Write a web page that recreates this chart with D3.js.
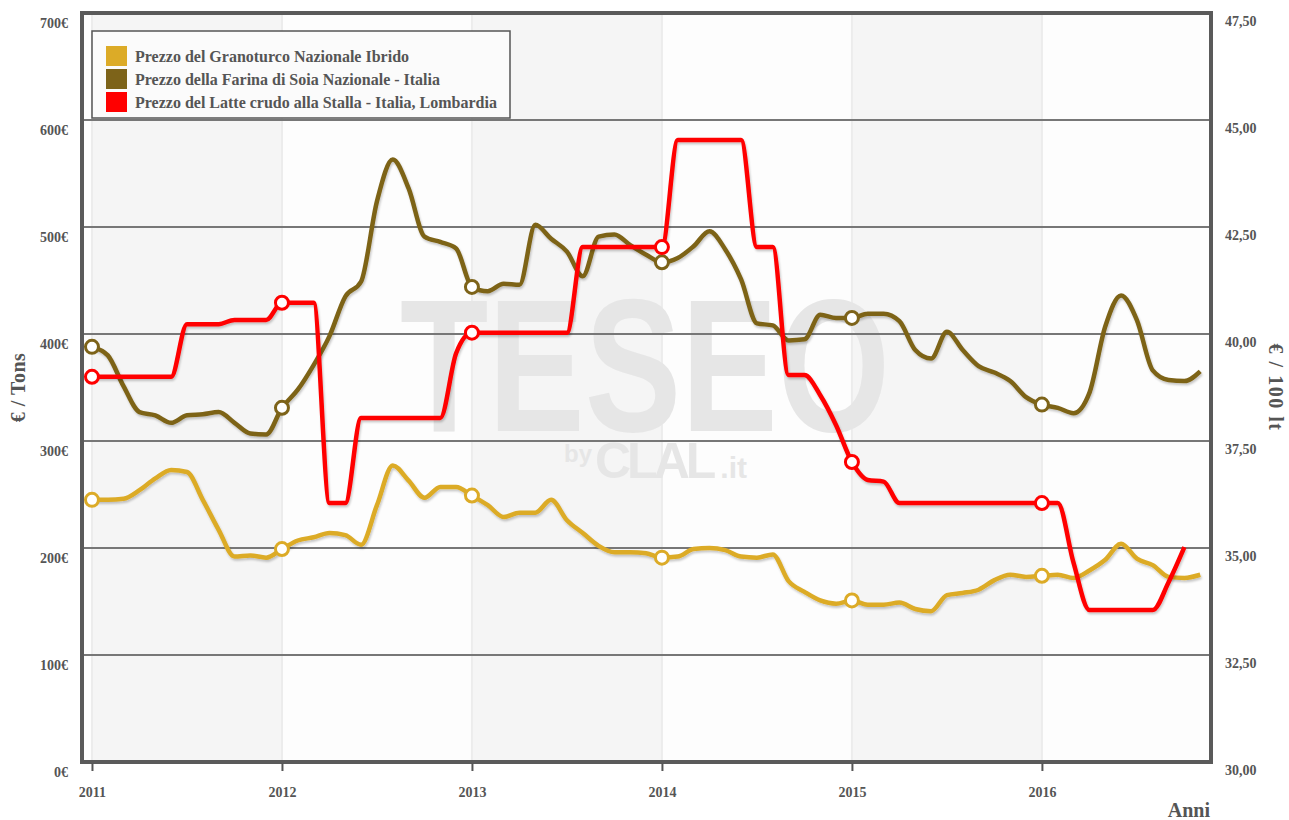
<!DOCTYPE html>
<html>
<head>
<meta charset="utf-8">
<script src="https://cdnjs.cloudflare.com/ajax/libs/d3/7.8.5/d3.min.js"></script>
<style>
	body { margin: 0; background: #fff; }
	text { font-family: "Liberation Serif", "Times New Roman", serif; font-weight: bold; fill: #555; }
	.watermark { font-family: "Liberation Sans", Arial, sans-serif; fill: #e6e6e6; }
</style>
</head>
<body>
<svg id="chart"></svg>
<script>

const WIDTH = 1289;
const HEIGHT = 820;
const MARGINS = {top: 13, bottom: 58, left: 82, right: 78};

// monthly values, January 2011 onwards
const YEARS = [2011, 2012, 2013, 2014, 2015, 2016];

// Prezzo del Granoturco Nazionale Ibrido (€/t), Jan 2011 - Nov 2016
const corn = [
	245, 245, 246, 254, 265, 273, 271, 245, 217, 192, 193, 191,
	199, 207, 210, 214, 212, 203, 240, 277, 263, 247, 257, 257,
	249, 240, 229, 233, 233, 245, 226, 214, 202, 196, 196, 195,
	191, 192, 199, 200, 198, 192, 191, 194, 169, 159, 151, 148,
	151, 147, 147, 149, 143, 141, 156, 158, 161, 170, 175, 173,
	174, 175, 172, 179, 189, 204, 190, 184, 173, 172, 175
];

// Prezzo della Farina di Soia Nazionale (€/t), Jan 2011 - Nov 2016
const soy = [
	388, 380, 351, 327, 324, 317, 324, 325, 327, 317, 307, 306,
	331, 348, 371, 398, 435, 449, 524, 563, 536, 491, 486, 480,
	444, 440, 447, 446, 502, 489, 477, 454, 491, 493, 483, 474,
	467, 471, 482, 496, 479, 451, 410, 408, 394, 395, 418, 415,
	415, 419, 419, 412, 385, 377, 402, 385, 370, 364, 356, 341,
	334, 331, 326, 345, 407, 436, 413, 366, 357, 356, 365
];

// Prezzo del Latte crudo alla Stalla - Lombardia (€/100 lt), Jan 2011 - Oct 2016
const milk = [
	39.00, 39.00, 39.00, 39.00, 39.00, 39.00, 40.23, 40.23, 40.23, 40.33, 40.33, 40.33,
	40.73, 40.73, 40.73, 36.05, 36.05, 38.04, 38.04, 38.04, 38.04, 38.04, 38.04, 39.55,
	40.03, 40.03, 40.03, 40.03, 40.03, 40.03, 40.03, 42.03, 42.03, 42.03, 42.03, 42.03,
	42.03, 44.53, 44.53, 44.53, 44.53, 44.53, 42.03, 42.03, 39.04, 39.04, 38.57, 37.87,
	37.01, 36.59, 36.55, 36.05, 36.05, 36.05, 36.05, 36.05, 36.05, 36.05, 36.05, 36.05,
	36.05, 36.05, 34.65, 33.55, 33.55, 33.55, 33.55, 33.55, 34.20, 35.02
];

const LEFT_TICKS = [0, 100, 200, 300, 400, 500, 600, 700];
const RIGHT_TICKS = [30, 32.5, 35, 37.5, 40, 42.5, 45, 47.5];

const SERIES = [
	{name: 'Prezzo del Granoturco Nazionale Ibrido', values: corn, color: '#dcab27', axis: 'left'},
	{name: 'Prezzo della Farina di Soia Nazionale - Italia', values: soy, color: '#7d6319', axis: 'left'},
	{name: 'Prezzo del Latte crudo alla Stalla - Italia, Lombardia', values: milk, color: '#ff0000', axis: 'right'}
];

window.onload = function(){
	makeChart();
};

function makeChart(){
	const svg = d3.select('#chart')
		.attr('width', WIDTH)
		.attr('height', HEIGHT);

	const x0 = MARGINS.left, x1 = WIDTH - MARGINS.right;
	const y0 = HEIGHT - MARGINS.bottom, y1 = MARGINS.top;

	// x in months since Jan 2011
	const xScale = d3.scaleLinear()
		.domain([-0.63, 70.68])
		.range([x0, x1]);
	const monthOf = year => (year - 2011) * 12;

	const yLeft = d3.scaleLinear().domain([0, 700]).range([y0, y1]);
	const yRight = d3.scaleLinear().domain([30, 47.5]).range([y0, y1]);

	//Drop shadow for the lines
	const defs = svg.append('defs');
	const shadow = defs.append('filter').attr('id', 'shadow')
		.attr('x', '-5%').attr('y', '-5%').attr('width', '110%').attr('height', '110%');
	shadow.append('feDropShadow')
		.attr('dx', 1).attr('dy', 2).attr('stdDeviation', 1.2)
		.attr('flood-color', '#000').attr('flood-opacity', 0.22);

	//Plot background and alternating year bands
	svg.append('rect')
		.attr('x', x0).attr('y', y1)
		.attr('width', x1 - x0).attr('height', y0 - y1)
		.attr('fill', '#fdfdfd');

	svg.append('g').selectAll('rect')
		.data(YEARS.filter((d, i) => i % 2 == 0))
		.enter().append('rect')
		.attr('x', d => xScale(monthOf(d)))
		.attr('y', y1)
		.attr('width', d => xScale(monthOf(d + 1)) - xScale(monthOf(d)))
		.attr('height', y0 - y1)
		.attr('fill', '#f5f5f5');

	svg.append('g').selectAll('line')
		.data(YEARS)
		.enter().append('line')
		.attr('x1', d => xScale(monthOf(d))).attr('x2', d => xScale(monthOf(d)))
		.attr('y1', y1).attr('y2', y0)
		.attr('stroke', '#ececec').attr('stroke-width', 2);

	//Watermark
	const wm = svg.append('g');
	wm.append('text')
		.attr('class', 'watermark')
		.attr('x', 400).attr('y', 431)
		.attr('textLength', 490).attr('lengthAdjust', 'spacingAndGlyphs')
		.style('font-size', '190px').style('font-weight', 'bold')
		.text('TESEO');
	const byline = wm.append('text')
		.attr('class', 'watermark')
		.attr('x', 564).attr('y', 478)
		.style('font-weight', 'bold');
	byline.append('tspan').attr('dy', -16).style('font-size', '24px').text('by');
	byline.append('tspan').attr('dy', 16).attr('dx', 3).style('font-size', '50px')
		.style('letter-spacing', '-4px').text('CLAL');
	byline.append('tspan').attr('dx', 8).style('font-size', '30px').text('.it');

	//Horizontal gridlines
	svg.append('g').selectAll('line')
		.data(LEFT_TICKS)
		.enter().append('line')
		.attr('x1', x0).attr('x2', x1)
		.attr('y1', d => yLeft(d)).attr('y2', d => yLeft(d))
		.attr('stroke', '#777').attr('stroke-width', 2);

	//Frame
	svg.append('rect')
		.attr('x', x0).attr('y', y1)
		.attr('width', x1 - x0).attr('height', y0 - y1)
		.attr('fill', 'none')
		.attr('stroke', '#5a5a5a').attr('stroke-width', 4);

	//Left axis
	const leftAxis = d3.axisLeft(yLeft)
		.tickValues(LEFT_TICKS)
		.tickSize(0)
		.tickPadding(14)
		.tickFormat(d => d + '€');
	const gl = svg.append('g').attr('transform', `translate(${x0},0)`).call(leftAxis);
	gl.select('.domain').remove();
	gl.selectAll('text').attr('dy', '1.0em').style('font-size', '14px').attr('font-family', null);

	//Right axis
	const fmtComma = d => d3.format('.2f')(d).replace('.', ',');
	const rightAxis = d3.axisRight(yRight)
		.tickValues(RIGHT_TICKS)
		.tickSize(0)
		.tickPadding(14)
		.tickFormat(fmtComma);
	const gr = svg.append('g').attr('transform', `translate(${x1},0)`).call(rightAxis);
	gr.select('.domain').remove();
	gr.selectAll('text').attr('dy', '0.9em').style('font-size', '14px').attr('font-family', null);

	//Bottom axis (years)
	const bottomAxis = d3.axisBottom(xScale)
		.tickValues(YEARS.map(monthOf))
		.tickSize(8)
		.tickPadding(16)
		.tickFormat((d, i) => YEARS[i]);
	const gb = svg.append('g').attr('transform', `translate(0,${y0 + 1})`).call(bottomAxis);
	gb.select('.domain').remove();
	gb.selectAll('line').attr('stroke', '#555').attr('stroke-width', 2);
	gb.selectAll('text').style('font-size', '14px').attr('font-family', null);

	//Axis titles
	svg.append('text')
		.attr('transform', `translate(25, ${(y0 + y1) / 2}) rotate(-90)`)
		.style('text-anchor', 'middle')
		.style('font-size', '20px')
		.style('letter-spacing', '0.5px')
		.text('€ / Tons');
	svg.append('text')
		.attr('transform', `translate(${WIDTH - 20}, ${(y0 + y1) / 2}) rotate(90)`)
		.style('text-anchor', 'middle')
		.style('font-size', '20px')
		.style('letter-spacing', '1.5px')
		.text('€ / 100 lt');
	svg.append('text')
		.attr('x', x1 - 1).attr('y', HEIGHT - 3)
		.style('text-anchor', 'end')
		.style('font-size', '20px')
		.text('Anni');

	//Series lines
	SERIES.forEach(s => {
		const yScale = s.axis == 'left' ? yLeft : yRight;
		const line = d3.line()
			.x((d, i) => xScale(i))
			.y(d => yScale(d))
			.curve(d3.curveMonotoneX);

		svg.append('path')
			.datum(s.values)
			.attr('d', line)
			.attr('fill', 'none')
			.attr('stroke', s.color)
			.attr('stroke-width', 4.5)
			.attr('stroke-linejoin', 'round')
			.attr('filter', 'url(#shadow)');
	});

	//Year markers
	SERIES.forEach(s => {
		const yScale = s.axis == 'left' ? yLeft : yRight;
		svg.append('g').selectAll('circle')
			.data(YEARS.map(monthOf).filter(m => m < s.values.length))
			.enter().append('circle')
			.attr('cx', m => xScale(m))
			.attr('cy', m => yScale(s.values[m]))
			.attr('r', 6.5)
			.attr('fill', '#fff')
			.attr('stroke', s.color)
			.attr('stroke-width', 3);
	});

	//Legend
	const legend = svg.append('g').attr('transform', 'translate(92,31)');
	legend.append('rect')
		.attr('width', 418).attr('height', 87)
		.attr('fill', '#fbfbfb')
		.attr('stroke', '#555').attr('stroke-width', 1.5);
	const items = legend.selectAll('g.item')
		.data(SERIES)
		.enter().append('g')
		.attr('class', 'item')
		.attr('transform', (d, i) => `translate(14, ${15 + i * 23})`);
	items.append('rect')
		.attr('width', 21).attr('height', 20)
		.attr('fill', d => d.color);
	items.append('text')
		.attr('x', 29).attr('y', 16)
		.style('font-size', '16px')
		.text(d => d.name);
}
</script>
</body>
</html>
